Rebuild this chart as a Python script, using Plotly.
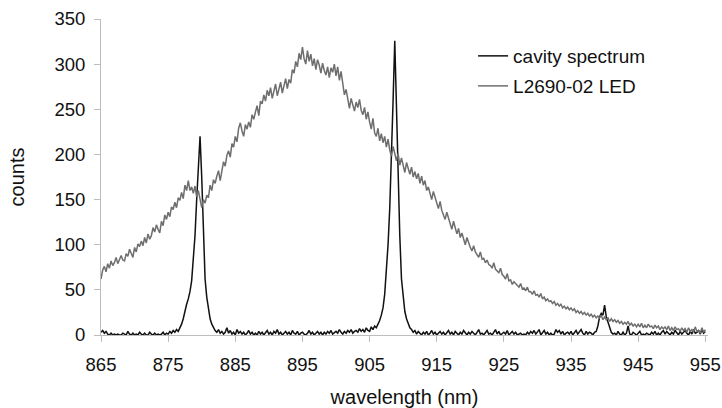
import numpy as np
import plotly.graph_objects as go

# wavelength sampling grid (nm), 0.25 nm step
wl_start = 865.0
wl_step = 0.25

cavity_spectrum = [
    3, 5, 2, 4,  1, 0, 2, 0,  1, 0, 1, 0,  0, 2, 1, 0,  4, 1, 0, 2,
    0, 1, 0, 3,  1, 0, 2, 0,  0, 3, 1, 0,  2, 0, 1, 0,  1, 3, 0, 2,
    1, 4, 2, 5,  3, 6, 4, 8,  12, 18, 28, 34,  40, 48, 60, 85,  110, 150, 190, 220,
    175, 120, 62, 42,  28, 18, 12, 8,  5, 3, 6, 2,  4, 1, 3, 8,  2, 5, 1, 3,
    0, 6, 2, 4,  1, 3, 0, 2,  5, 1, 3, 0,  2, 0, 4, 1,  3, 0, 2, 5,
    1, 3, 0, 4,  2, 6, 1, 3,  0, 2, 4, 1,  3, 0, 5, 2,  1, 4, 0, 2,
    3, 1, 0, 2,  5, 1, 3, 0,  2, 4, 1, 3,  0, 3, 1, 4,  2, 5, 1, 3,
    4, 2, 6, 3,  1, 4, 2, 5,  3, 6, 2, 4,  5, 3, 7, 4,  6, 3, 8, 5,
    4, 9, 6, 10,  8, 12, 16, 22,  30, 45, 70, 100,  140, 190, 260, 326,  250, 170, 110, 62,
    40, 26, 18, 12,  8, 6, 3, 5,  1, 4, 2, 0,  3, 1, 4, 0,  2, 5, 1, 3,
    0, 2, 4, 1,  3, 0, 2, 5,  1, 3, 0, 4,  2, 0, 3, 1,  5, 2, 0, 3,
    1, 4, 2, 0,  3, 6, 1, 2,  0, 3, 5, 1,  2, 0, 3, 6,  1, 4, 0, 2,
    3, 1, 5, 0,  2, 4, 1, 3,  0, 1, 2, 0,  1, 0, 3, 1,  4, 2, 5, 1,
    3, 6, 0, 2,  5, 1, 3, 0,  2, 0, 1, 6,  3, 5, 1, 4,  0, 2, 3, 1,
    4, 0, 2, 5,  1, 3, 6, 2,  0, 4, 1, 3,  2, 0, 3, 4,  10, 20, 24, 22,
    33, 20, 14, 8,  3, 1, 2, 0,  4, 1, 0, 3,  0, 2, 10, 1,  0, 3, 1, 0,
    2, 4, 0, 1,  0, 2, 1, 0,  3, 1, 4, 0,  2, 0, 3, 5,  1, 4, 2, 0,
    3, 1, 5, 2,  0, 4, 1, 3,  5, 2, 0, 4,  1, 6, 2, 3,  5, 1, 6, 2,
    4,
]

led_spectrum = [
    62, 72, 76, 70,  79, 74, 82, 77,  80, 86, 79, 84,  88, 83, 82, 90,  87, 95, 90, 86,
    97, 92, 101, 98,  104, 99, 108, 102,  112, 106, 110, 119,  114, 122, 117, 113,  126, 121, 133, 128,
    136, 131, 142, 139,  147, 141, 152, 149,  158, 151, 166, 160,  171, 160, 164, 157,  165, 153, 160, 148,
    141, 150, 146, 155,  152, 166, 160, 172,  168, 176, 182, 171,  184, 192, 187, 199,  204, 197, 212, 208,
    220, 214, 229, 235,  226, 220, 233, 228,  236, 230, 244, 239,  247, 254, 243, 259,  256, 266, 259, 271,
    265, 274, 262, 270,  278, 265, 272, 280,  268, 277, 284, 273,  283, 279, 294, 290,  303, 297, 312, 305,
    319, 306, 300, 315,  303, 311, 298, 306,  294, 305, 299, 290,  301, 293, 288, 297,  285, 296, 291, 300,
    287, 297, 282, 292,  276, 266, 272, 260,  251, 262, 255, 248,  258, 252, 261, 249,  244, 252, 239, 247,
    236, 228, 240, 224,  220, 229, 215, 223,  213, 220, 208, 217,  205, 198, 209, 200,  193, 201, 188, 196,
    186, 180, 191, 184,  178, 186, 175, 181,  173, 179, 168, 176,  166, 171, 160, 164,  157, 150, 159, 152,
    145, 140, 148, 138,  133, 128, 136, 129,  124, 117, 126, 120,  112, 118, 108, 113,  105, 100, 108, 102,
    97, 93, 99, 92,  89, 86, 92, 84,  85, 80, 83, 78,  77, 74, 80, 73,  71, 69, 74, 67,
    65, 62, 68, 60,  61, 56, 59, 57,  55, 53, 57, 51,  52, 49, 53, 48,  48, 45, 49, 44,
    45, 42, 46, 40,  42, 38, 40, 37,  38, 35, 37, 33,  35, 32, 34, 30,  32, 29, 31, 28,
    30, 27, 29, 25,  27, 24, 26, 23,  25, 22, 24, 21,  23, 20, 22, 19,  21, 19, 22, 17,
    20, 17, 19, 15,  18, 15, 17, 14,  16, 13, 15, 12,  14, 12, 15, 11,  13, 10, 12, 9,
    12, 9, 13, 8,  11, 8, 12, 9,  10, 7, 11, 8,  10, 6, 9, 7,  9, 6, 10, 5,
    8, 5, 9, 6,  7, 4, 8, 5,  7, 3, 8, 4,  6, 3, 9, 4,  5, 2, 8, 3,
    6,
]

x_ticks = [865, 875, 885, 895, 905, 915, 925, 935, 945, 955]
y_ticks = [0, 50, 100, 150, 200, 250, 300, 350]

wavelength = wl_start + wl_step * np.arange(len(led_spectrum))

FONT = "Liberation Sans, Arial, sans-serif"
AXIS_GRAY = "#bdbdbd"

fig = go.Figure()
fig.add_trace(go.Scatter(x=wavelength, y=cavity_spectrum, mode="lines",
                         name="cavity spectrum", legend="legend",
                         line=dict(color="#111111", width=1.5)))
fig.add_trace(go.Scatter(x=wavelength, y=led_spectrum, mode="lines",
                         name="L2690-02 LED", legend="legend2",
                         line=dict(color="#6e6e6e", width=1.5)))

legend_common = dict(xanchor="left", yanchor="top", bgcolor="rgba(0,0,0,0)",
                     font=dict(family=FONT, size=19, color="#111111"))

fig.update_layout(
    width=722, height=408,
    margin=dict(l=101, r=14, t=19, b=73, autoexpand=False),
    paper_bgcolor="white", plot_bgcolor="white",
    font=dict(family=FONT, size=18.5, color="#111111"),
    showlegend=True,
    legend=dict(x=0.613, y=0.943, **legend_common),
    legend2=dict(x=0.613, y=0.848, **legend_common),
    xaxis=dict(range=[865, 955.4], tickvals=x_ticks, showgrid=False,
               zeroline=False, showline=True, linecolor=AXIS_GRAY, linewidth=1,
               ticks="outside", ticklen=6, tickcolor=AXIS_GRAY,
               ticklabelstandoff=7, automargin=False,
               title=dict(text="wavelength (nm)", standoff=15,
                          font=dict(size=20))),
    yaxis=dict(range=[0, 350], tickvals=y_ticks, showgrid=False,
               zeroline=False, showline=True, linecolor=AXIS_GRAY, linewidth=1,
               ticks="outside", ticklen=6, tickcolor=AXIS_GRAY,
               ticklabelstandoff=5, automargin=False,
               title=dict(text="counts", standoff=24, font=dict(size=20))),
)

# remove the default page margin so the 722x408 figure fills the window exactly
fig.write_html("out.html",
               config={"displayModeBar": False},
               post_script="document.body.style.margin='0';document.body.style.overflow='hidden';")
